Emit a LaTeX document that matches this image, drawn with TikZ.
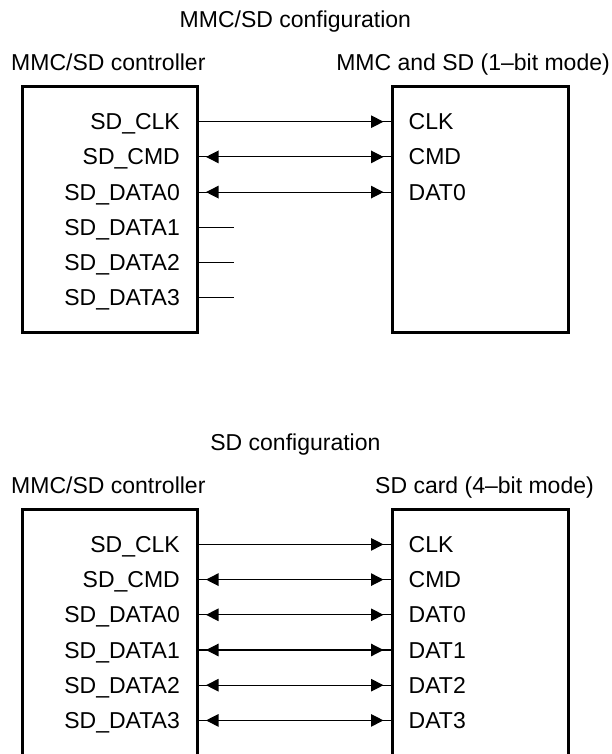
\documentclass[tikz,border=0pt]{standalone}
\usepackage{fontspec}
\setmainfont{Liberation Sans}
\usetikzlibrary{arrows.meta}
\begin{document}
\begin{tikzpicture}[x=1pt,y=-1pt,
  box/.style={draw, line width=3pt, inner sep=0pt, outer sep=0pt, anchor=north west},
  openbox/.style={line width=3pt, line join=miter},
  wire/.style={line width=1.2pt},
  tipr/.style={wire, -{Triangle[length=12.5pt,width=12.5pt]}, shorten >=8.5pt},
  tipb/.style={wire, {Triangle[length=12.5pt,width=12.5pt]}-{Triangle[length=12.5pt,width=12.5pt]}, shorten >=8.5pt, shorten <=8.5pt},
  lbl/.style={inner sep=0pt, font=\fontsize{23}{27}\selectfont}]
\useasboundingbox (0,0) rectangle (611,754);

% ---------- top: MMC/SD configuration ----------
\node[lbl, anchor=base] (t1) at (295.4,27.5) {MMC/SD configuration};
\node[lbl, anchor=base west] (h1l) at (11,70.7) {MMC/SD controller};
\node[lbl, anchor=base east] (h1r) at (610,70.7) {MMC and SD (1–bit mode)};
\node[box, minimum width=175pt, minimum height=245.7pt] (c1) at (22.5,87) {};
\node[box, minimum width=176.5pt, minimum height=245.7pt] (d1) at (392,87) {};

\foreach \i/\l in {1/SD\_CLK, 2/SD\_CMD, 3/SD\_DATA0, 4/SD\_DATA1, 5/SD\_DATA2, 6/SD\_DATA3}{
  \pgfmathsetmacro\yy{121.7+35.2*(\i-1)}
  \pgfmathsetmacro\yb{\yy+8}
  \node[lbl, anchor=base east] (a\i) at (180,\yb) {\l};
  \coordinate (p\i) at (197.5,\yy);
  \coordinate (q\i) at (392,\yy);
  \coordinate (s\i) at (234,\yy);
}
\foreach \i/\r in {1/CLK, 2/CMD, 3/DAT0}{
  \pgfmathsetmacro\yb{121.7+35.2*(\i-1)+8}
  \node[lbl, anchor=base west] (b\i) at (408.5,\yb) {\r};
}
\draw[wire] (p1) -- (q1);
\draw[tipr] (p1) -- (q1);
\foreach \i in {2,3}{
  \draw[wire] (p\i) -- (q\i);
  \draw[tipb] (p\i) -- (q\i);
}
\foreach \i in {4,5,6}{
  \draw[wire] (p\i) -- (s\i);
}

% ---------- bottom: SD configuration ----------
\node[lbl, anchor=base] (t2) at (295.4,450.2) {SD configuration};
\node[lbl, anchor=base west] (h2l) at (11,493.4) {MMC/SD controller};
\node[lbl, anchor=base east] (h2r) at (594,493.4) {SD card (4–bit mode)};
\coordinate (c2nw) at (22.5,509.7);
\coordinate (c2ne) at (197.5,509.7);
\coordinate (d2nw) at (392,509.7);
\coordinate (d2ne) at (568.5,509.7);
\coordinate (c2sw) at (22.5,760);
\coordinate (c2se) at (197.5,760);
\coordinate (d2sw) at (392,760);
\coordinate (d2se) at (568.5,760);
\draw[openbox] (c2sw) -- (c2nw) -- (c2ne) -- (c2se);
\draw[openbox] (d2sw) -- (d2nw) -- (d2ne) -- (d2se);

\foreach \i/\l/\r in {1/SD\_CLK/CLK, 2/SD\_CMD/CMD, 3/SD\_DATA0/DAT0, 4/SD\_DATA1/DAT1, 5/SD\_DATA2/DAT2, 6/SD\_DATA3/DAT3}{
  \pgfmathsetmacro\yy{544.4+35.2*(\i-1)}
  \pgfmathsetmacro\yb{\yy+8}
  \node[lbl, anchor=base east] (e\i) at (180,\yb) {\l};
  \node[lbl, anchor=base west] (f\i) at (408.5,\yb) {\r};
  \coordinate (m\i) at (197.5,\yy);
  \coordinate (n\i) at (392,\yy);
}
\draw[wire] (m1) -- (n1);
\draw[tipr] (m1) -- (n1);
\foreach \i in {2,...,6}{
  \draw[wire] (m\i) -- (n\i);
  \draw[tipb] (m\i) -- (n\i);
}
\end{tikzpicture}
\end{document}
